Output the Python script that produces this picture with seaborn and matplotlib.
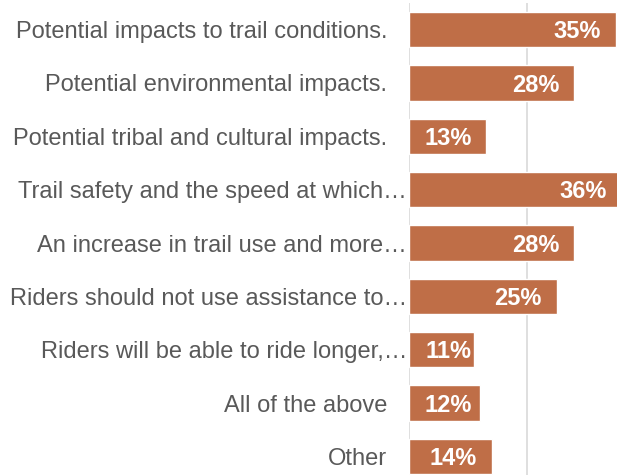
import matplotlib
matplotlib.use("Agg")
import matplotlib.pyplot as plt
import matplotlib.transforms as mtransforms
import seaborn as sns
import pandas as pd

# Survey responses: share of respondents selecting each concern
categories = [
    "Potential impacts to trail conditions.",
    "Potential environmental impacts.",
    "Potential tribal and cultural impacts.",
    "Trail safety and the speed at which…",
    "An increase in trail use and more…",
    "Riders should not use assistance to…",
    "Riders will be able to ride longer,…",
    "All of the above",
    "Other",
]
shares = [35, 28, 13, 36, 28, 25, 11, 12, 14]

df = pd.DataFrame({"category": categories, "share": shares})

sns.set_theme(style="white")
plt.rcParams["font.family"] = ["Liberation Sans", "DejaVu Sans"]

BAR = "#BF6E47"
TEXT = "#595959"
GRID = "#D9D9D9"
DPI = 100

fig = plt.figure(figsize=(6.17, 4.75), dpi=DPI)
# x axis spans 0-40 %, extending slightly past the right edge of the canvas
ax = fig.add_axes([409 / 617, -8 / 475, 236 / 617, 480 / 475])

sns.barplot(data=df, x="share", y="category", color=BAR, width=0.66,
            saturation=1, ax=ax, orient="h")

ax.set_xlim(0, 40)
ax.set_ylim(len(categories) - 0.5, -0.5)
ax.set_xticks([0, 20, 40])
ax.set_xticklabels([])
ax.tick_params(axis="x", length=0)
ax.xaxis.grid(True, color=GRID, linewidth=1.2)
ax.set_axisbelow(True)
for s in ax.spines.values():
    s.set_visible(False)
ax.set_xlabel("")
ax.set_ylabel("")

# Category labels: full ones sit well left of the axis, truncated ones run up to it
ax.tick_params(axis="y", length=0, pad=22 * 72 / DPI, labelsize=17, labelcolor=TEXT)
for lab in ax.get_yticklabels():
    if lab.get_text().endswith("…"):
        lab.set_transform(lab.get_transform() +
                          mtransforms.ScaledTranslation(20 / DPI, 0, fig.dpi_scale_trans))

# Value labels inside the bar ends
offset = mtransforms.ScaledTranslation(-15 / DPI, -2 / DPI, fig.dpi_scale_trans)
for i, v in enumerate(shares):
    ax.text(max(v, 13.2), i, f"{v}%", ha="right", va="center",
            color="white", fontsize=17, fontweight="bold",
            transform=ax.transData + offset)

fig.savefig("out.png", dpi=DPI)
